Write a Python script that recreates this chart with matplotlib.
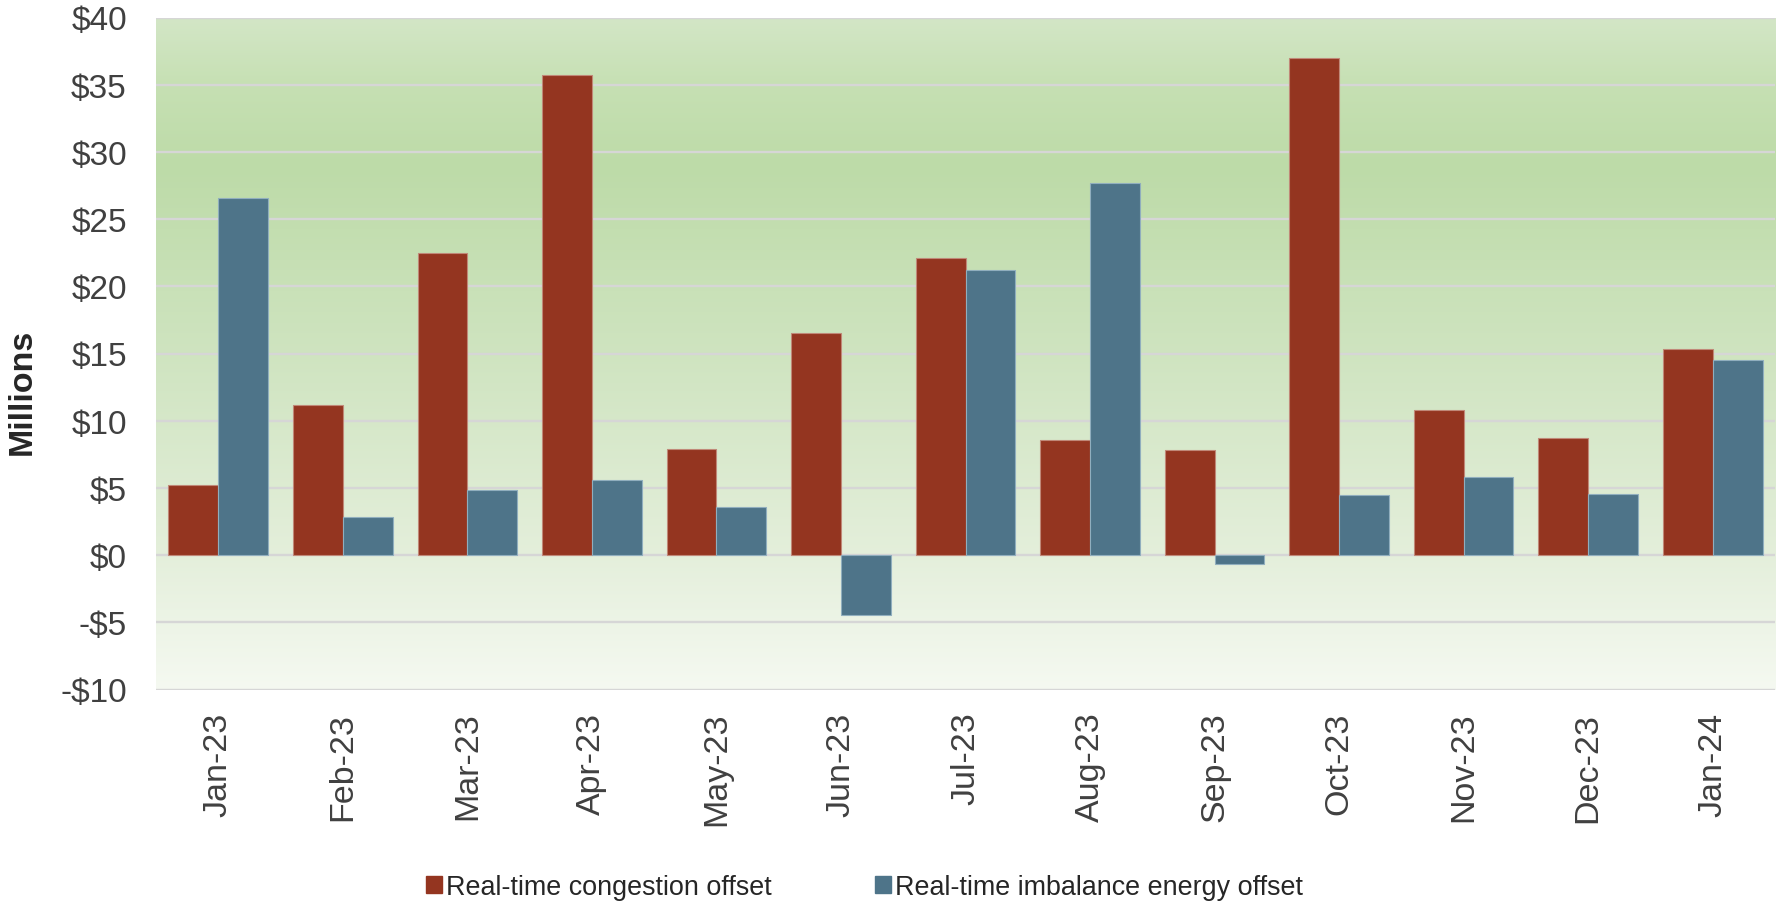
import numpy as np
import matplotlib
matplotlib.use('Agg')
import matplotlib.pyplot as plt
from matplotlib.colors import LinearSegmentedColormap
from matplotlib.patches import Patch

months = ['Jan-23', 'Feb-23', 'Mar-23', 'Apr-23', 'May-23', 'Jun-23', 'Jul-23',
          'Aug-23', 'Sep-23', 'Oct-23', 'Nov-23', 'Dec-23', 'Jan-24']
congestion = [5.2, 11.2, 22.5, 35.75, 7.9, 16.5, 22.1, 8.6, 7.8, 36.95, 10.8, 8.7, 15.3]
imbalance = [26.6, 2.85, 4.85, 5.6, 3.6, -4.45, 21.2, 27.65, -0.65, 4.5, 5.8, 4.55, 14.5]
yticks = list(range(-10, 45, 5))
series_names = ['Real-time congestion offset', 'Real-time imbalance energy offset']

plt.rcParams['font.family'] = ['Liberation Sans', 'DejaVu Sans']
RED, BLUE = '#943520', '#4E7489'

fig = plt.figure(figsize=(17.76, 9.04), dpi=100)
ax = fig.add_axes([156 / 1776, 1 - 690.5 / 904, (1775 - 156) / 1776, (690.5 - 18.5) / 904])

# vertical gradient background (axes fraction: 0 bottom, 1 top)
bg = LinearSegmentedColormap.from_list('bg', [
    (0.0, '#F5F9F1'), (0.2, '#E4EFDB'), (0.5, '#CFE4C0'),
    (0.78, '#BDDBA8'), (0.9, '#C6E0B3'), (1.0, '#D3E6C6')])
grad = np.linspace(0, 1, 256).reshape(-1, 1)
ax.imshow(grad, cmap=bg, aspect='auto', origin='lower', extent=[0, 1, 0, 1],
          transform=ax.transAxes, zorder=0)

x = np.arange(len(months))
w = 0.4
ax.bar(x - w / 2, congestion, w, color=RED, edgecolor='#C08878', linewidth=0.8, zorder=3)
ax.bar(x + w / 2, imbalance, w, color=BLUE, edgecolor='#90AEBE', linewidth=0.8, zorder=3)

ax.set_xlim(-0.5, len(months) - 0.5)
ax.set_ylim(-10, 40)
ax.set_yticks(yticks)
ax.set_yticklabels([f'${v}' if v >= 0 else f'-${-v}' for v in yticks])
ax.set_xticks(x)
ax.set_xticklabels(months, rotation=90)
for v in yticks:
    ax.axhline(v, color='#D6D6D6', lw=1.7, zorder=1)
for s in ax.spines.values():
    s.set_visible(False)
ax.tick_params(axis='both', length=0, colors='#404040')
ax.tick_params(axis='y', pad=21, labelsize=24)
ax.tick_params(axis='x', pad=16, labelsize=24.5)

fig.text(22.5 / 1776, 1 - 392 / 904, 'Millions', rotation=90, fontsize=24.5,
         fontweight='bold', color='#262626', ha='center', va='center')

handles = [Patch(color=RED), Patch(color=BLUE)]
fig.legend(handles, series_names, loc='center left', bbox_to_anchor=(426 / 1776, 1 - 888 / 904),
           ncol=2, frameon=False, borderpad=0, borderaxespad=0,
           handlelength=0.6, handleheight=0.6, handletextpad=0.16,
           columnspacing=3.8, prop={'size': 19.4}, labelcolor='#262626')

fig.savefig('out.png', dpi=100)
